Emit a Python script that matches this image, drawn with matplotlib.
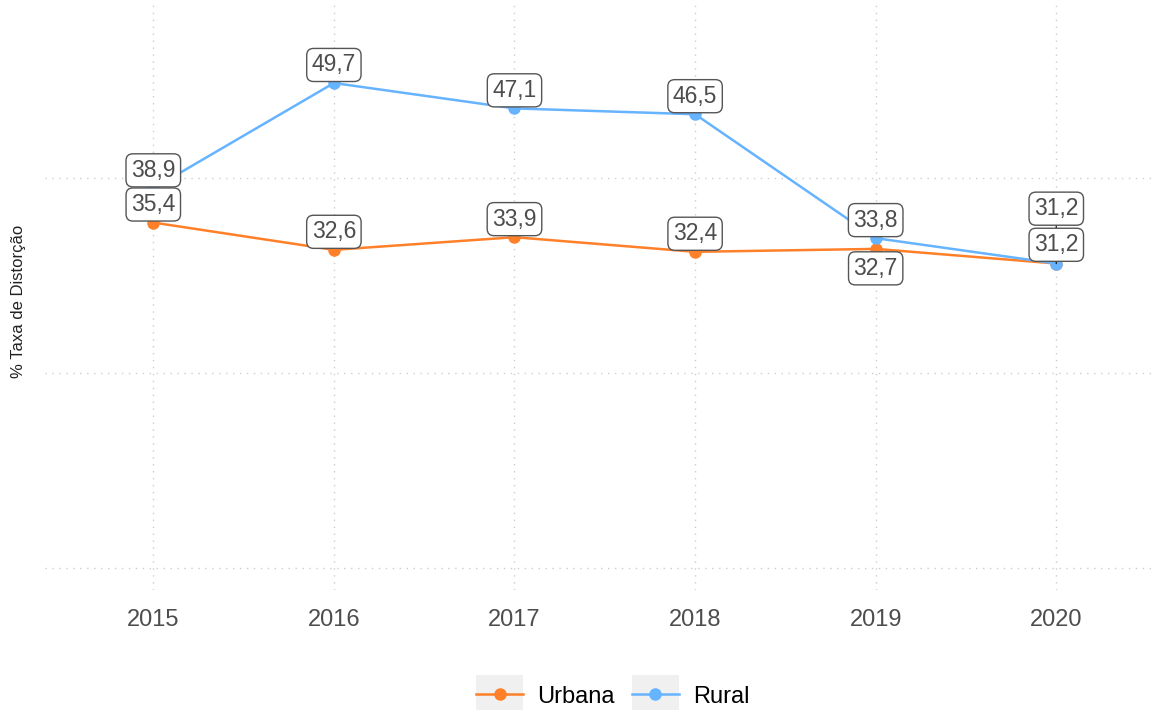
import matplotlib.pyplot as plt
from matplotlib.legend_handler import HandlerLine2D
from matplotlib.patches import Rectangle

plt.rcParams['font.family'] = ['Liberation Sans', 'DejaVu Sans']

# Taxa de distorção idade-série por localização
anos = [2015, 2016, 2017, 2018, 2019, 2020]
urbana = [35.4, 32.6, 33.9, 32.4, 32.7, 31.2]
rural = [38.9, 49.7, 47.1, 46.5, 33.8, 31.2]

# deslocamento vertical dos rótulos (em pontos), à moda do ggrepel
desloc_urbana = [13, 13, 13, 13, -14, 13.5]
desloc_rural = [13, 13, 13, 13, 13, 39.5]

cor_urbana = '#FF8029'
cor_rural = '#66B3FF'
cinza_txt = '#4d4d4d'


class ChaveCinza(HandlerLine2D):
    """Chave de legenda com fundo cinza claro, estilo ggplot."""
    def create_artists(self, legend, orig_handle, xdescent, ydescent,
                       width, height, fontsize, trans):
        alt = 27
        fundo = Rectangle((-xdescent, -ydescent + height / 2 - alt / 2), width, alt,
                          facecolor='#f0f0f0', edgecolor='none', transform=trans)
        arts = super().create_artists(legend, orig_handle, xdescent, ydescent,
                                      width, height, fontsize, trans)
        return [fundo] + arts


fig = plt.figure(figsize=(11.52, 7.10), dpi=100)
ax = fig.add_axes([0.039, 0.169, 0.961, 0.824])

l_urb, = ax.plot(anos, urbana, color=cor_urbana, lw=1.8, marker='o', ms=8,
                 label='Urbana', zorder=3)
l_rur, = ax.plot(anos, rural, color=cor_rural, lw=1.8, marker='o', ms=8,
                 label='Rural', zorder=3)

caixa = dict(boxstyle='round,pad=0.22,rounding_size=0.3', fc='white',
             ec='#555555', lw=1.0)

for serie, desl in ((urbana, desloc_urbana), (rural, desloc_rural)):
    for x, y, d in zip(anos, serie, desl):
        seta = None
        z = 5
        if abs(d) > 20:
            seta = dict(arrowstyle='-', color='#222222', lw=1.0,
                        shrinkA=0, shrinkB=0)
            z = 4
        ax.annotate(f'{y:.1f}'.replace('.', ','), xy=(x, y),
                    xytext=(0, d), textcoords='offset points',
                    ha='center', va='center', fontsize=16.5, color=cinza_txt,
                    bbox=caixa, arrowprops=seta, zorder=z)

ax.set_xlim(2014.4, 2020.53)
ax.set_ylim(-2.26, 57.7)
ax.set_xticks(anos)
ax.set_xticklabels([str(a) for a in anos])
ax.set_yticks([0, 20, 40])
ax.set_yticklabels([])
ax.tick_params(axis='both', length=0, labelsize=17, labelcolor=cinza_txt)
ax.tick_params(axis='x', pad=14)
ax.grid(True, color='#cccccc', linestyle=(0, (1, 4)), lw=1.0)
ax.set_axisbelow(True)
for s in ax.spines.values():
    s.set_visible(False)

fig.text(0.016, 0.575, '% Taxa de Distorção', rotation=90, ha='center',
         va='center', fontsize=12, color='#222222')

fig.legend(handles=[l_urb, l_rur], loc='center', bbox_to_anchor=(0.532, 0.019),
           ncol=2, frameon=False, fontsize=17, handlelength=2.0,
           handletextpad=0.6, columnspacing=0.7,
           handler_map={l_urb: ChaveCinza(), l_rur: ChaveCinza()})

fig.savefig('out.png', dpi=100)
